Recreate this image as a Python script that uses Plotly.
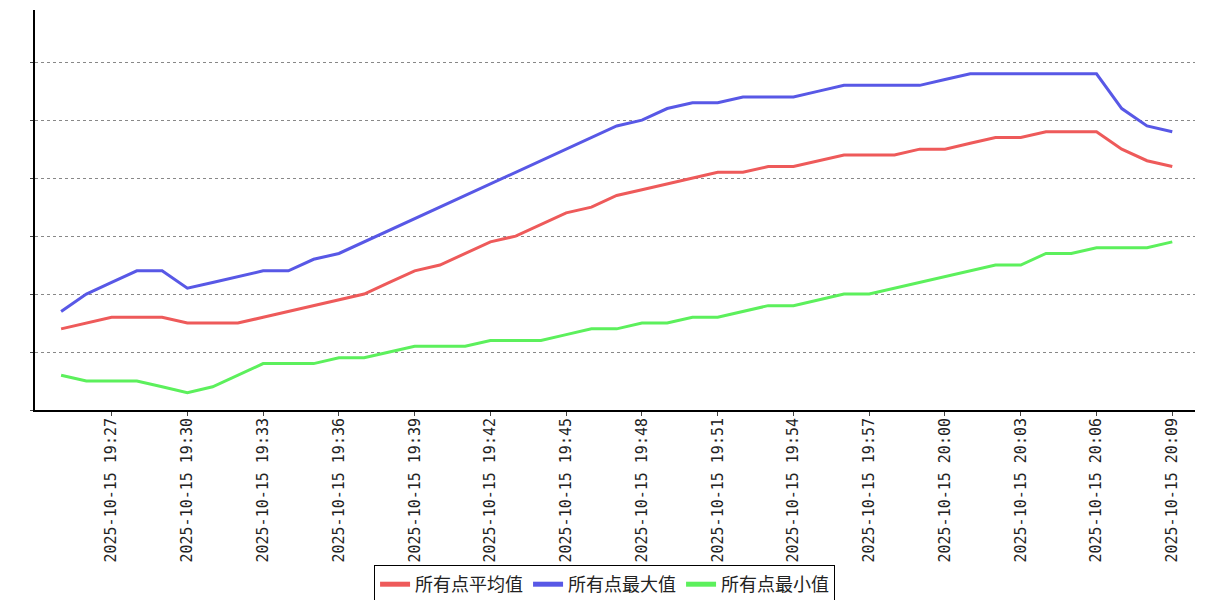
import pandas as pd
import plotly.graph_objects as go

times = pd.date_range("2025-10-15 19:25", periods=45, freq="min")

avg_vals = [16.4, 16.5, 16.6, 16.6, 16.6, 16.5, 16.5, 16.5, 16.6, 16.7,
            16.8, 16.9, 17.0, 17.2, 17.4, 17.5, 17.7, 17.9, 18.0, 18.2,
            18.4, 18.5, 18.7, 18.8, 18.9, 19.0, 19.1, 19.1, 19.2, 19.2,
            19.3, 19.4, 19.4, 19.4, 19.5, 19.5, 19.6, 19.7, 19.7, 19.8,
            19.8, 19.8, 19.5, 19.3, 19.2]
max_vals = [16.7, 17.0, 17.2, 17.4, 17.4, 17.1, 17.2, 17.3, 17.4, 17.4,
            17.6, 17.7, 17.9, 18.1, 18.3, 18.5, 18.7, 18.9, 19.1, 19.3,
            19.5, 19.7, 19.9, 20.0, 20.2, 20.3, 20.3, 20.4, 20.4, 20.4,
            20.5, 20.6, 20.6, 20.6, 20.6, 20.7, 20.8, 20.8, 20.8, 20.8,
            20.8, 20.8, 20.2, 19.9, 19.8]
min_vals = [15.6, 15.5, 15.5, 15.5, 15.4, 15.3, 15.4, 15.6, 15.8, 15.8,
            15.8, 15.9, 15.9, 16.0, 16.1, 16.1, 16.1, 16.2, 16.2, 16.2,
            16.3, 16.4, 16.4, 16.5, 16.5, 16.6, 16.6, 16.7, 16.8, 16.8,
            16.9, 17.0, 17.0, 17.1, 17.2, 17.3, 17.4, 17.5, 17.5, 17.7,
            17.7, 17.8, 17.8, 17.8, 17.9]

tick_times = pd.date_range("2025-10-15 19:27", "2025-10-15 20:09", freq="3min")
tick_labels = [t.strftime("%Y-%m-%d %H:%M") for t in tick_times]

series_names = ["所有点平均值", "所有点最大值", "所有点最小值"]
series_colors = ["#EE5A5A", "#5858E6", "#5CF05C"]

fig = go.Figure()
for name, vals, col in zip(series_names, [avg_vals, max_vals, min_vals], series_colors):
    fig.add_trace(go.Scatter(x=times, y=vals, mode="lines", name=name,
                             line=dict(color=col, width=3)))

x0 = pd.Timestamp("2025-10-15 19:25") - pd.Timedelta(seconds=62)
x1 = pd.Timestamp("2025-10-15 19:25") + pd.Timedelta(seconds=int(44.91 * 60))

fig.update_layout(
    width=1207, height=600,
    margin=dict(l=27, r=20, t=2, b=198),
    paper_bgcolor="white", plot_bgcolor="white",
    showlegend=True,
    legend=dict(orientation="h", x=0.491, xanchor="center", y=-0.3875, yanchor="top",
                bordercolor="black", borderwidth=1, itemwidth=30,
                font=dict(family="Noto Sans CJK SC", size=18, color="#222"),
                tracegroupgap=0, itemsizing="constant"),
    xaxis=dict(type="date", range=[x0, x1], tickvals=tick_times, ticktext=tick_labels,
               tickangle=-90, automargin=False, ticklabelstandoff=-4,
               tickfont=dict(family="DejaVu Sans Mono", size=15, color="#222"),
               showgrid=False, zeroline=False, showline=True, linecolor="black", linewidth=2,
               ticks="outside", ticklen=4, tickcolor="#444"),
    yaxis=dict(range=[15.0, 21.9], tick0=16, dtick=1, showticklabels=False, automargin=False,
               showgrid=True, gridcolor="#888", griddash="dot", gridwidth=1,
               zeroline=False, showline=True, linecolor="black", linewidth=2,
               ticks="outside", ticklen=3, tickcolor="#444"),
)

fig.write_html("out.html")
